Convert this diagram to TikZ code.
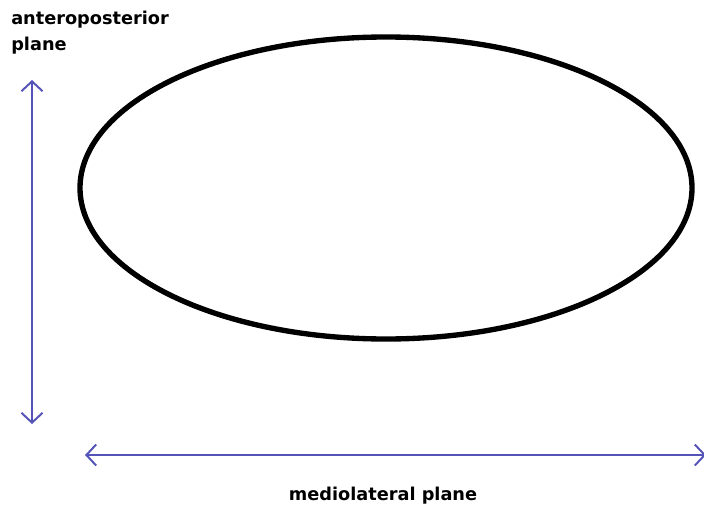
\documentclass[tikz,border=0pt]{standalone}
\usepackage{fontspec}
\setmainfont{DejaVu Sans}
\usetikzlibrary{arrows.meta,positioning,shapes.geometric}
\definecolor{axisblue}{RGB}{84,84,184}

\begin{document}
\begin{tikzpicture}[x=0.025cm, y=-0.025cm,
  axis/.style={draw=axisblue, line width=1.4pt, {Straight Barb[length=7pt,width=15pt]}-{Straight Barb[length=7pt,width=15pt]}},
  lbl/.style={font=\bfseries\fontsize{12.6}{18.5}\selectfont, inner sep=0pt}]
  \useasboundingbox (0,0) rectangle (704,506);

  % Contorno
  \node[draw, ellipse, line width=3.8pt, minimum width=612*0.025cm, minimum height=302*0.025cm, inner sep=0pt] (contorno) at (386,188) {};

  % Ejes
  \coordinate (apTop) at (32,80);
  \coordinate (apBot) at (32,424);
  \coordinate (mlLeft) at (85,455);
  \coordinate (mlRight) at (706,455);
  \draw[axis] (apTop) -- (apBot);
  \draw[axis] (mlLeft) -- (mlRight);

  % Etiquetas
  \node[lbl, anchor=north west, align=left] (ap) at (11,11) {anteroposterior\\plane};
  \node[lbl, anchor=base] (ml) at (383,500) {mediolateral plane};
\end{tikzpicture}
\end{document}
